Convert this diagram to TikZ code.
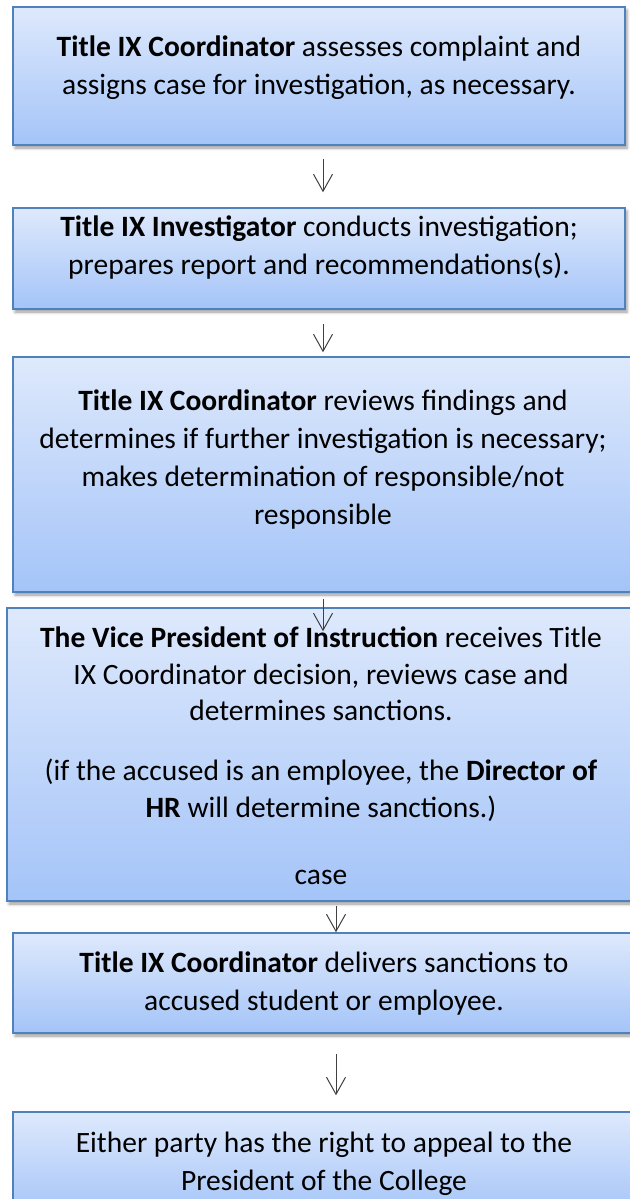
\documentclass[tikz,border=0pt]{standalone}
\usepackage{fontspec}
\setmainfont{Carlito}
\usepackage{tikz}
\usetikzlibrary{arrows.meta, shadows.blur}

\definecolor{boxedge}{RGB}{79,129,189}
\definecolor{boxtop}{RGB}{222,233,252}
\definecolor{boxbottom}{RGB}{164,196,248}
\definecolor{arrowgrey}{RGB}{64,64,64}

\begin{document}
\begin{tikzpicture}[x=1pt, y=-1pt,
  box/.style = {draw=boxedge, line width=1.5pt, top color=boxtop,
        bottom color=boxbottom, align=center, inner sep=0pt,
        blur shadow={shadow xshift=2pt, shadow yshift=-3pt,
        shadow blur radius=3pt}, text depth=8pt},
  flow/.style = {arrowgrey, line width=1pt,
        -{Straight Barb[length=17pt,width=19pt]}}]
 \fontsize{29.5}{38}\selectfont
 \useasboundingbox (0,0) rectangle (629,1199);

 \node[box, minimum width=612, minimum height=138, text height=44pt] (b1) at(319,76)
   {\textbf{Title IX Coordinator} assesses complaint and\\
    assigns case for investigation, as necessary.};
 \node[box, minimum width=612, minimum height=101, text height=39pt] (b2) at(319,258.5)
   {\textbf{Title IX Investigator} conducts investigation;\\
    prepares report and recommendations(s).};
 \node[box, minimum width=620, minimum height=235, text height=107pt] (b3) at(323,474.5)
   {\textbf{Title IX Coordinator} reviews findings and\\
    determines if further investigation is necessary;\\
    makes determination of responsible/not\\
    responsible};
 \node[box, minimum width=628, minimum height=293, text height=267pt,
   font=\fontsize{29.5}{36.5}\selectfont] (b4) at(321,754.5)
   {\textbf{The Vice President of Instruction} receives Title\\
    IX Coordinator decision, reviews case and\\
    determines sanctions.\\[23.5pt]
    (if the accused is an employee, the \textbf{Director of}\\
    \textbf{HR} will determine sanctions.)\\[30.5pt]
    case};
 \node[box, minimum width=622, minimum height=100, text height=62pt] (b5) at(324,983)
   {\textbf{Title IX Coordinator} delivers sanctions to\\
    accused student or employee.};
 \node[box, minimum width=622, minimum height=104, text height=60pt] (b6) at(324,1164)
   {Either party has the right to appeal to the\\
    President of the College};

 % arrows between the steps
 \draw[flow, shorten <=13pt, shorten >=15pt] ([xshift=4pt]b1.south) -- ([xshift=4pt]b2.north);
 \draw[flow, shorten <=14pt, shorten >=4pt] ([xshift=4pt]b2.south) -- (b3.north);
 \draw[flow, shorten <=6pt, shorten >=-24pt] (b3.south) -- (b3.south |- b4.north);
 \draw[flow, shorten <=4pt] ([xshift=15pt]b4.south) -- ([xshift=12pt]b5.north);
 \draw[flow, shorten <=20pt, shorten >=16pt] ([xshift=12pt]b5.south) -- ([xshift=12pt]b6.north);
\end{tikzpicture}
\end{document}
